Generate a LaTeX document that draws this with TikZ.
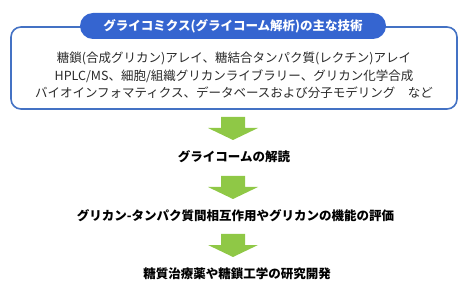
\documentclass[tikz,border=0pt]{standalone}
\usepackage{fontspec}
\setmainfont{Noto Sans CJK JP}
\definecolor{boxblue}{HTML}{4472C4}
\definecolor{pillblue}{HTML}{3565D0}
\definecolor{arrowgreen}{HTML}{8FC846}
\definecolor{bodytext}{HTML}{2A2A2A}
\tikzset{
  outerbox/.style={draw=boxblue, line width=1.6pt, rounded corners=10pt, fill=white,
    minimum width=446pt, minimum height=82pt, inner sep=0pt},
  pill/.style={fill=pillblue, rounded corners=13pt, minimum width=306pt,
    minimum height=26pt, inner sep=0pt, text=white,
    font=\fontsize{12.5}{14}\selectfont\bfseries},
  bodylines/.style={align=center, text=bodytext, inner sep=0pt,
    font=\fontsize{12.5}{17.5}\selectfont},
  steptext/.style={inner sep=0pt, text=black, font=\fontsize{12.5}{14}\selectfont\bfseries},
  blockarrow/.pic={
    \fill[arrowgreen] (-12,0) -- (12,0) -- (12,11) -- (25,11) -- (0,23) -- (-25,11) -- (-12,11) -- cycle;
  }
}
\begin{document}
\begin{tikzpicture}[x=1pt,y=-1pt]
\useasboundingbox (0,0) rectangle (476,304);
\node[outerbox] (box) at (234,68) {};
\node[pill] (title) at (233,26) {グライコミクス(グライコーム解析)の主な技術};
\node[bodylines] (body) at (234,75.5) {糖鎖(合成グリカン)アレイ、糖結合タンパク質(レクチン)アレイ\\
HPLC/MS、細胞/組織グリカンライブラリー、グリカン化学合成\\
バイオインフォマティクス、データベースおよび分子モデリング\quad など};
\coordinate (a1) at (233,117);
\coordinate (a2) at (233,176);
\coordinate (a3) at (233,234);
\pic at (a1) {blockarrow};
\node[steptext] (s1) at (234,157) {グライコームの解読};
\pic at (a2) {blockarrow};
\node[steptext] (s2) at (235.5,216) {グリカン-タンパク質間相互作用やグリカンの機能の評価};
\pic at (a3) {blockarrow};
\node[steptext] (s3) at (237,274) {糖質治療薬や糖鎖工学の研究開発};
\end{tikzpicture}
\end{document}
